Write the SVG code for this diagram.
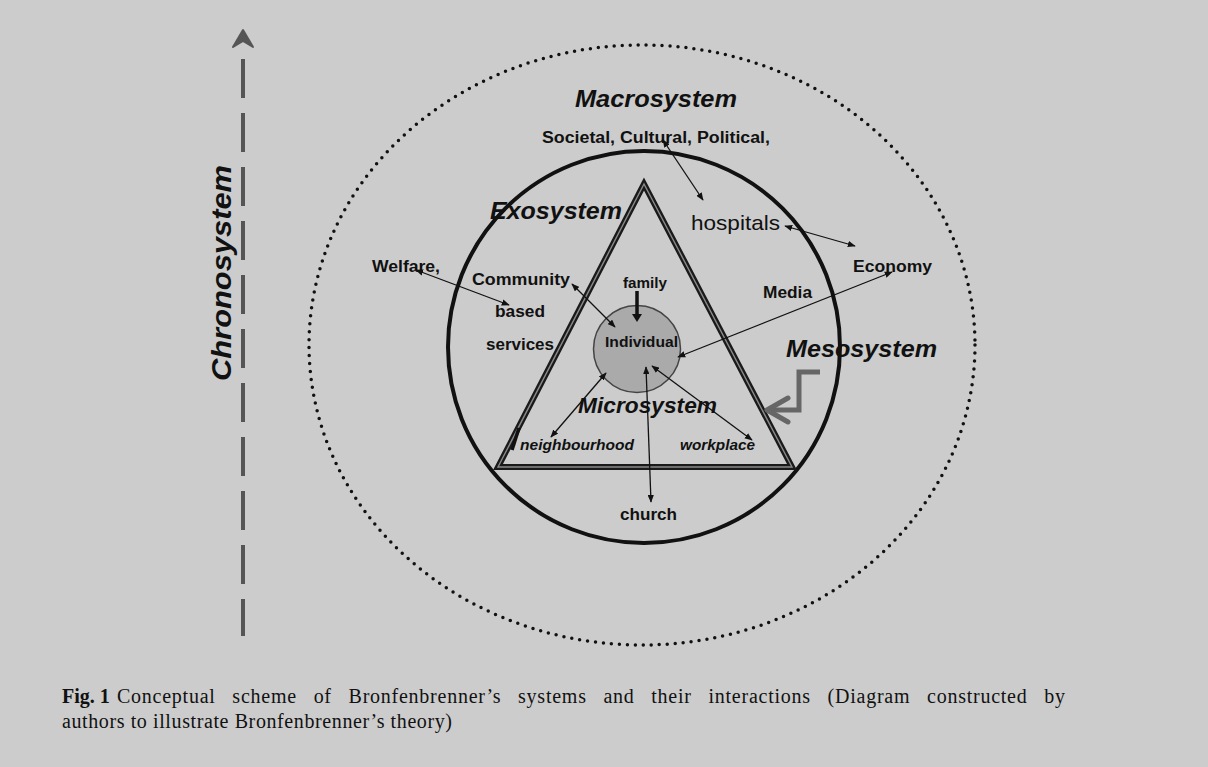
<svg xmlns="http://www.w3.org/2000/svg" width="1208" height="767" viewBox="0 0 1208 767">
  <defs>
    <marker id="ah" viewBox="0 0 10 8" refX="9" refY="4" markerWidth="8" markerHeight="6.5" markerUnits="userSpaceOnUse" orient="auto-start-reverse">
      <path d="M0,0 L10,4 L0,8 Z" fill="#111"/>
    </marker>
    <style>
      .lbl { font-family: "Liberation Sans", Arial, sans-serif; font-weight: bold; fill: #111; }
      .sys { font-family: "Liberation Sans", Arial, sans-serif; font-weight: bold; font-style: italic; fill: #111; }
      .cap { font-family: "Liberation Serif", "Times New Roman", serif; fill: #111; font-size: 20px; }
      .conn { stroke: #111; stroke-width: 1.3; fill: none; marker-end: url(#ah); marker-start: url(#ah); }
    </style>
  </defs>
  <rect width="1208" height="767" fill="#cccccc"/>

  <!-- Chronosystem -->
  <g id="chronosystem">
    <line x1="243" y1="59" x2="243" y2="636" stroke="#555" stroke-width="4" stroke-dasharray="39 15"/>
    <path d="M233,47 L243,30 L253,47 L243,41 Z" fill="#555" stroke="#555" stroke-width="2" stroke-linejoin="round"/>
    <text class="sys" font-size="28" transform="translate(231,381) rotate(-90)" textLength="216" lengthAdjust="spacingAndGlyphs">Chronosystem</text>
  </g>

  <!-- Macrosystem -->
  <g id="macrosystem">
    <ellipse cx="642" cy="345" rx="333" ry="300" fill="none" stroke="#111" stroke-width="3.5" stroke-dasharray="0 8" stroke-linecap="round"/>
    <text class="sys" x="575" y="107" font-size="24" textLength="162" lengthAdjust="spacingAndGlyphs">Macrosystem</text>
    <text class="lbl" x="542" y="143" font-size="16" textLength="228" lengthAdjust="spacingAndGlyphs">Societal, Cultural, Political,</text>
    <text x="691" y="230" font-family="Liberation Sans, Arial, sans-serif" font-size="21" fill="#111" textLength="89" lengthAdjust="spacingAndGlyphs">hospitals</text>
    <text class="lbl" x="853" y="272" font-size="16" textLength="79" lengthAdjust="spacingAndGlyphs">Economy</text>
  </g>

  <!-- Exosystem -->
  <g id="exosystem">
    <circle cx="644" cy="347" r="196" fill="none" stroke="#111" stroke-width="4"/>
    <text class="sys" x="490" y="219" font-size="24" textLength="132" lengthAdjust="spacingAndGlyphs">Exosystem</text>
    <text class="lbl" x="372" y="272" font-size="16" textLength="68" lengthAdjust="spacingAndGlyphs">Welfare,</text>
    <text class="lbl" x="472" y="285" font-size="16" textLength="98" lengthAdjust="spacingAndGlyphs">Community</text>
    <text class="lbl" x="495" y="317" font-size="16" textLength="50" lengthAdjust="spacingAndGlyphs">based</text>
    <text class="lbl" x="486" y="350" font-size="16" textLength="68" lengthAdjust="spacingAndGlyphs">services</text>
    <text class="lbl" x="763" y="298" font-size="16" textLength="49" lengthAdjust="spacingAndGlyphs">Media</text>
    <text class="lbl" x="620" y="520" font-size="16" textLength="57" lengthAdjust="spacingAndGlyphs">church</text>
  </g>

  <!-- Microsystem -->
  <g id="microsystem">
    <polygon points="644,184 498,467 792,467" fill="none" stroke="#1a1a1a" stroke-width="6" stroke-linejoin="miter"/>
    <polygon points="644,184 498,467 792,467" fill="none" stroke="#8a8a8a" stroke-width="1.4" stroke-linejoin="miter"/>
    <text class="sys" x="578" y="413" font-size="22" textLength="139" lengthAdjust="spacingAndGlyphs">Microsystem</text>
    <text class="sys" x="520" y="450" font-size="14" textLength="114" lengthAdjust="spacingAndGlyphs">neighbourhood</text>
    <text class="sys" x="680" y="450" font-size="14" textLength="75" lengthAdjust="spacingAndGlyphs">workplace</text>
    <text class="lbl" x="623" y="288" font-size="15" textLength="44" lengthAdjust="spacingAndGlyphs">family</text>
  </g>

  <!-- Individual -->
  <g id="individual">
    <circle cx="637" cy="349" r="43.5" fill="#aaaaaa" stroke="#444" stroke-width="1.5"/>
    <text class="lbl" x="605" y="347" font-size="15" textLength="73" lengthAdjust="spacingAndGlyphs">Individual</text>
  </g>

  <!-- Mesosystem -->
  <g id="mesosystem">
    <text class="sys" x="786" y="357" font-size="24" textLength="151" lengthAdjust="spacingAndGlyphs">Mesosystem</text>
    <polyline points="820,372 799,372 799,410 768,410" fill="none" stroke="#666" stroke-width="5" stroke-linejoin="miter"/>
    <polyline points="788,398 767,410 788,422" fill="none" stroke="#666" stroke-width="5" stroke-linecap="round" stroke-linejoin="round"/>
  </g>

  <!-- Connectors -->
  <g id="connectors">
    <line class="conn" x1="663" y1="140" x2="703" y2="200"/>
    <line class="conn" x1="785" y1="226" x2="855" y2="246"/>
    <line class="conn" x1="892" y1="272" x2="678" y2="357"/>
    <line class="conn" x1="416" y1="270" x2="509" y2="305"/>
    <line class="conn" x1="572" y1="284" x2="615" y2="327"/>
    <line class="conn" x1="551" y1="437" x2="606" y2="373"/>
    <line class="conn" x1="752" y1="440" x2="652" y2="366"/>
    <line class="conn" x1="646" y1="367" x2="651" y2="502"/>
    <line x1="637" y1="291" x2="637" y2="316" stroke="#111" stroke-width="3.5"/>
    <path d="M632,314 L637,322 L642,314 Z" fill="#111"/>
    <line x1="512" y1="450" x2="519" y2="428" stroke="#111" stroke-width="3.5"/>
  </g>

  <!-- Caption -->
  <g id="caption">
    <text class="cap" x="62" y="703" font-weight="bold">Fig. 1</text>
    <text class="cap" x="117" y="703" word-spacing="11" textLength="948" lengthAdjust="spacing">Conceptual scheme of Bronfenbrenner’s systems and their interactions (Diagram constructed by</text>
    <text class="cap" x="62" y="728" textLength="390" lengthAdjust="spacing">authors to illustrate Bronfenbrenner’s theory)</text>
  </g>
</svg>
